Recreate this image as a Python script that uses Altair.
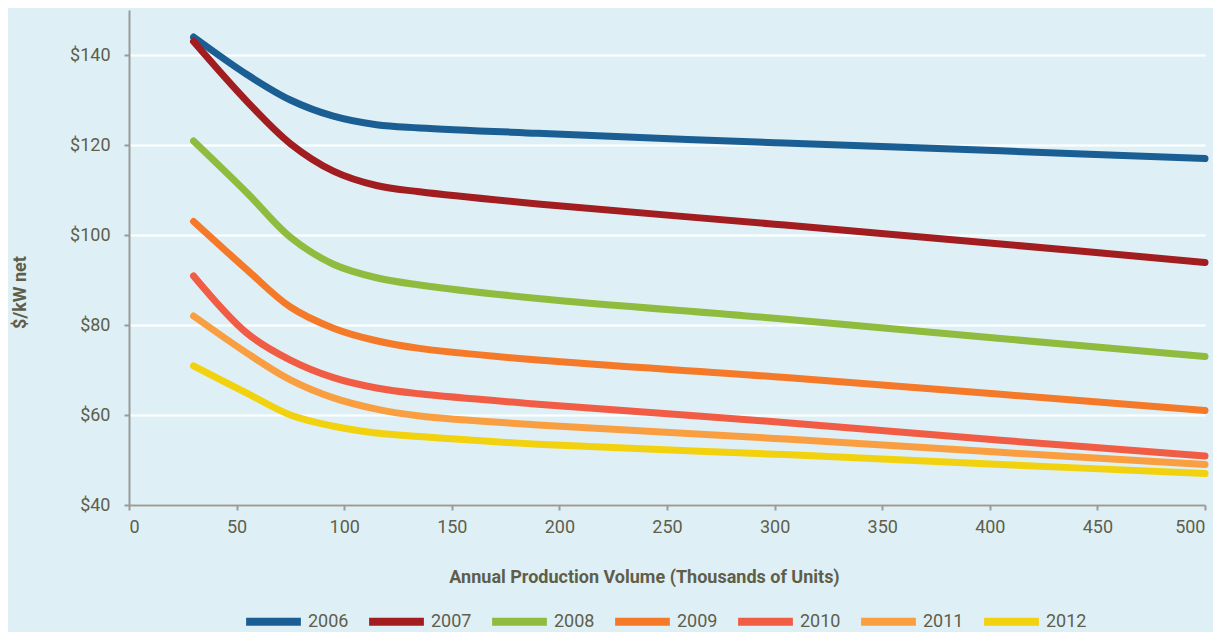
import altair as alt
import pandas as pd

volume = [30, 55, 75, 95, 115, 135, 190, 300, 405, 500]
years = ["2006", "2007", "2008", "2009", "2010", "2011", "2012"]
y2006 = [144, 135.6, 130, 126.4, 124.5, 123.8, 122.6, 120.5, 118.7, 117]
y2007 = [143, 129.6, 120.3, 114.2, 111.0, 109.6, 106.9, 102.4, 98, 93.9]
y2008 = [120.9, 109.3, 99.5, 93.5, 90.5, 88.9, 85.9, 81.5, 77, 73]
y2009 = [103, 92.2, 84, 79.3, 76.5, 74.8, 72.2, 68.5, 64.6, 61]
y2010 = [90.9, 78.1, 72.2, 68.3, 66.0, 64.7, 62.4, 58.5, 54.4, 50.9]
y2011 = [82, 73.7, 67.8, 63.8, 61.3, 59.8, 57.8, 54.8, 51.7, 49]
y2012 = [70.9, 64.8, 60.0, 57.5, 56.0, 55.2, 53.5, 51.3, 49, 47]
colors = ["#1B5E93", "#A11D20", "#8FBC3F", "#F47A2A", "#F15C45", "#F99F42", "#F2D20F"]

series = [y2006, y2007, y2008, y2009, y2010, y2011, y2012]
rows = []
for yr, vals in zip(years, series):
    for x, v in zip(volume, vals):
        rows.append({"Year": yr, "Volume": x, "Cost": v})
df = pd.DataFrame(rows)

FONT = "Roboto"
TXT = "#5F5E4B"
AX = "#9A9A9A"

chart = alt.Chart(df).mark_line(strokeWidth=7, strokeCap="round", interpolate="catmull-rom").encode(
    x=alt.X("Volume:Q", scale=alt.Scale(domain=[0, 500], nice=False),
            axis=alt.Axis(values=list(range(0, 501, 50)), title="Annual Production Volume (Thousands of Units)",
                          grid=False, domainColor=AX, domainWidth=2, tickColor=AX, tickWidth=2, tickSize=5,
                          labelColor=TXT, labelFontSize=18, labelFont=FONT, labelPadding=8,
                          titleColor=TXT, titleFont=FONT, titleFontSize=18, titleFontWeight="bold",
                          titlePadding=32, titleX=515)),
    y=alt.Y("Cost:Q", scale=alt.Scale(domain=[40, 150], nice=False, zero=False),
            axis=alt.Axis(values=[40, 60, 80, 100, 120, 140], format="$d", title="$/kW net",
                          grid=True, gridColor="#FFFFFF", gridWidth=2,
                          domainColor=AX, domainWidth=2, tickColor=AX, tickWidth=2, tickSize=5,
                          labelColor=TXT, labelFontSize=18, labelFont=FONT, labelPadding=14,
                          titleColor=TXT, titleFont=FONT, titleFontSize=18, titleFontWeight="bold",
                          titleAngle=270, titleBaseline="bottom", titleX=-100, titleY=282)),
    color=alt.Color("Year:N", scale=alt.Scale(domain=years, range=colors),
                    legend=alt.Legend(title=None, orient="none", direction="horizontal",
                                      legendX=113, legendY=580, symbolType="stroke",
                                      symbolSize=3000, symbolStrokeWidth=8,
                                      labelFont=FONT, labelFontSize=18, labelColor=TXT,
                                      labelOffset=3, columnPadding=4, columns=7)),
).properties(
    width=1076, height=495,
    background="#DEF0F6",
    padding={"left": 121, "top": 2, "right": 8, "bottom": 127},
    autosize=alt.AutoSizeParams(type="none"),
).configure_view(stroke=None)

chart.save("out.html", embed_options={"renderer": "svg", "actions": False})
